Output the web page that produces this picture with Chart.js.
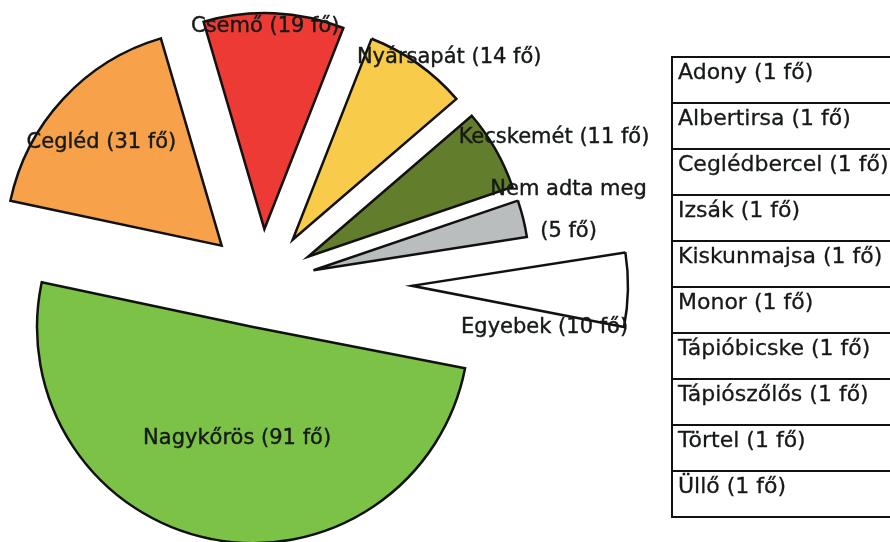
<!DOCTYPE html>
<html lang="hu">
<head>
<meta charset="utf-8">
<title>Lakóhely szerinti megoszlás</title>
<script src="https://cdn.jsdelivr.net/npm/chart.js@4.4.1/dist/chart.umd.min.js"></script>
<style>
  html, body { margin: 0; background: #fff; }
  #wrap { position: relative; width: 890px; height: 542px; overflow: hidden; }
  #box { position: absolute; left: 0; top: 0; width: 890px; height: 542px; }
  #others {
    position: absolute; left: 671px; top: 55.5px; width: 240px;
    border-top: 2px solid #111; border-left: 2.5px solid #111;
    font: 22px "DejaVu Sans", sans-serif; color: #161a16;
    -webkit-text-stroke: 0.3px #161a16;
  }
  #others div {
    box-sizing: border-box; height: 46.1px; border-bottom: 2px solid #111;
    padding: 3px 0 0 5px; line-height: 22px; white-space: nowrap;
  }
</style>
</head>
<body>
<div id="wrap">
  <div id="box"><canvas id="pie"></canvas></div>
  <div id="others"></div>
</div>
<script>
// Slices, in drawing order (clockwise, starting at the right-hand edge of Nagykőrös)
const TOWNS = ["Nagykőrös", "Cegléd", "Csemő", "Nyársapát", "Kecskemét", "Nem adta meg", "Egyebek"];
const PEOPLE = [91, 31, 19, 14, 11, 5, 10];
const COLORS = ["#7cc247", "#f7a24b", "#ee3a35", "#f9cb4a", "#627d2c", "#b9bdbd", "#ffffff"];

// What "Egyebek" is made of
const OTHER_TOWNS = ["Adony", "Albertirsa", "Ceglédbercel", "Izsák", "Kiskunmajsa",
                     "Monor", "Tápióbicske", "Tápiószőlős", "Törtel", "Üllő"];
const OTHER_PEOPLE = [1, 1, 1, 1, 1, 1, 1, 1, 1, 1];

// Look: how far each slice is pulled out, and where its label sits (px from centre, turn in deg)
const EXPLODE = [45, 55, 54, 53, 53, 53, 150];
const LABEL_DIST = [163, 210, 251, 289, 324, 319, 287];
const LABEL_TURN = [-2.7, -2.7, -1.8, 5, 4.1, -2.2, 9];
const BREAK_LABEL = ["Nem adta meg"];

const fo = n => `(${n} fő)`;

// pull each slice out along its bisector (Chart.js' own offset also grows the radius)
const explode = {
  id: "explode",
  beforeDatasetDraw(chart, args) {
    const ctx = chart.ctx;
    args.meta.data.forEach((arc, i) => {
      const mid = (arc.startAngle + arc.endAngle) / 2;
      ctx.save();
      ctx.translate(Math.cos(mid) * EXPLODE[i], Math.sin(mid) * EXPLODE[i]);
      arc.draw(ctx);
      ctx.restore();
    });
    return false;
  }
};

const sliceLabels = {
  id: "sliceLabels",
  afterDatasetsDraw(chart) {
    const ctx = chart.ctx;
    ctx.save();
    ctx.font = '21px "DejaVu Sans", sans-serif';
    ctx.fillStyle = ctx.strokeStyle = "#161a16";
    ctx.lineWidth = 0.4;
    ctx.textAlign = "center";
    ctx.textBaseline = "alphabetic";
    chart.getDatasetMeta(0).data.forEach((arc, i) => {
      const a = (arc.startAngle + arc.endAngle) / 2 + LABEL_TURN[i] * Math.PI / 180;
      const x = arc.x + Math.cos(a) * LABEL_DIST[i];
      const y = arc.y + Math.sin(a) * LABEL_DIST[i];
      const lines = BREAK_LABEL.includes(TOWNS[i])
        ? [TOWNS[i], fo(PEOPLE[i])]
        : [`${TOWNS[i]} ${fo(PEOPLE[i])}`];
      lines.forEach((t, k) => {
        ctx.fillText(t, x, y + k * 42);
        ctx.strokeText(t, x, y + k * 42);
      });
    });
    ctx.restore();
  }
};

new Chart(document.getElementById("pie"), {
  type: "pie",
  data: {
    labels: TOWNS,
    datasets: [{
      data: PEOPLE,
      backgroundColor: COLORS,
      borderColor: "#111",
      borderWidth: 2.5,
      borderJoinStyle: "miter",
      clip: false
    }]
  },
  options: {
    responsive: true, maintainAspectRatio: false,
    animation: false, events: [],
    rotation: 101,
    radius: 216,
    layout: { padding: { left: 0, right: 366, top: 24, bottom: 0 } },
    plugins: { legend: { display: false }, tooltip: { enabled: false } }
  },
  plugins: [explode, sliceLabels]
});

document.getElementById("others").innerHTML =
  OTHER_TOWNS.map((t, i) => `<div>${t} ${fo(OTHER_PEOPLE[i])}</div>`).join("");
</script>
</body>
</html>
